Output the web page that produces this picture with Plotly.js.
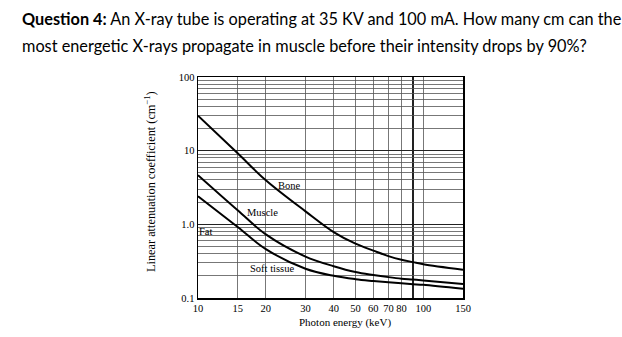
<!DOCTYPE html>
<html><head><meta charset="utf-8">
<script src="https://cdn.plot.ly/plotly-3.0.1.min.js"></script>
<style>html,body{margin:0;padding:0;background:#fff;}#chart{width:622px;height:337px;}</style>
</head><body><div id="chart"></div>
<script>
// Photon energy (keV)
const energy = [10, 15, 20, 30, 40, 50, 60, 70, 80, 90, 100, 150];
// Linear attenuation coefficients (cm^-1)
const bone   = [29.8, 9.2, 3.97, 1.5, 0.785, 0.546, 0.44, 0.37, 0.33, 0.307, 0.288, 0.242];
const muscle = [4.64, 1.55, 0.73, 0.365, 0.27, 0.225, 0.205, 0.192, 0.183, 0.178, 0.173, 0.155];
const soft   = [2.40, 0.92, 0.46, 0.25, 0.20, 0.18, 0.170, 0.163, 0.158, 0.154, 0.151, 0.133];

const xTicks = [10, 15, 20, 30, 40, 50, 60, 70, 80, 100, 150];
const xTickText = ["10", "15", "20", "30", "40", "50", "60", "70", "80", "100", "150"];
const xExtraGrid = [90];
const yTicks = [0.1, 1, 10, 100];
const yTickText = ["0.1", "1.0", "10", "100"];
const yMinorGrid = [0.2,0.3,0.4,0.5,0.6,0.7,0.8,0.9, 2,3,4,5,6,7,8,9, 20,30,40,50,60,70,80,90];

const labels = [
  {text: "Bone", x: 25.6, y: 3.4},
  {text: "Muscle", x: 19.3, y: 1.47},
  {text: "Fat", x: 10.9, y: 0.79},
  {text: "Soft tissue", x: 21.3, y: 0.25}
];

const questionLines = [
  "<b>Question 4:</b> An X-ray tube is operating at 35 KV and 100 mA. How many cm can the",
  "most energetic X-rays propagate in muscle before their intensity drops by 90%?"
];

const serif = "Liberation Serif, Times New Roman, serif";
const sans = "Lato, Open Sans, sans-serif";
const series = [{name: "Bone", y: bone}, {name: "Muscle", y: muscle}, {name: "Soft tissue", y: soft}];
const traces = series.map(s => ({
  x: energy, y: s.y, name: s.name, mode: "lines",
  line: {color: "#000", width: 2, shape: "spline", smoothing: 1}, hoverinfo: "skip"
}));

const annotations = labels.map(l => ({
  x: Math.log10(l.x), y: Math.log10(l.y), xref: "x", yref: "y", text: l.text,
  showarrow: false, font: {family: serif, size: 10.5, color: "#000"},
  xanchor: "center", yanchor: "middle", borderpad: 0
}));
// question text, two lines above the plot
const lineCentres = [18, 45];
questionLines.forEach((t, i) => annotations.push({
  xref: "paper", yref: "paper", x: (20 - 198) / 265, y: 1 + (77 - lineCentres[i]) / 221,
  xanchor: "left", yanchor: "middle", text: t, showarrow: false,
  font: {family: sans, size: 16.3, color: "#000"}
}));
// axis titles
annotations.push({
  xref: "paper", yref: "paper", x: (345 - 198) / 265, y: -(322 - 298) / 221,
  xanchor: "center", yanchor: "middle", text: "Photon energy (keV)", showarrow: false,
  font: {family: serif, size: 11, color: "#000"}
});
annotations.push({
  xref: "paper", yref: "paper", x: -(198 - 150) / 265, y: (298 - 182) / 221,
  xanchor: "center", yanchor: "middle", textangle: -90,
  text: "Linear attenuation coefficient (cm<sup>−1</sup>)", showarrow: false,
  font: {family: serif, size: 12.3, color: "#000"}
});

const layout = {
  width: 622, height: 337,
  margin: {l: 198, r: 159, t: 77, b: 39},
  paper_bgcolor: "#fff", plot_bgcolor: "#fff",
  showlegend: false,
  xaxis: {
    type: "log", range: [1, Math.log10(150)],
    tickmode: "array", tickvals: xTicks, ticktext: xTickText,
    ticks: "", showline: true, linecolor: "#000", linewidth: 1.5, mirror: true,
    showgrid: true, gridcolor: "#555", gridwidth: 0.8, zeroline: false,
    minor: {tickvals: xExtraGrid, showgrid: true, gridcolor: "#222", gridwidth: 1.5, ticks: ""},
    tickfont: {family: serif, size: 10.5, color: "#000"}
  },
  yaxis: {
    type: "log", range: [-1, 2],
    tickmode: "array", tickvals: yTicks, ticktext: yTickText,
    ticks: "", showline: true, linecolor: "#000", linewidth: 1.5, mirror: true,
    showgrid: true, gridcolor: "#222", gridwidth: 1.5, zeroline: false,
    minor: {tickvals: yMinorGrid, showgrid: true, gridcolor: "#555", gridwidth: 0.8, ticks: ""},
    tickfont: {family: serif, size: 10.5, color: "#000"}
  },
  annotations: annotations
};

Plotly.newPlot("chart", traces, layout, {staticPlot: true});
</script>
</body></html>
